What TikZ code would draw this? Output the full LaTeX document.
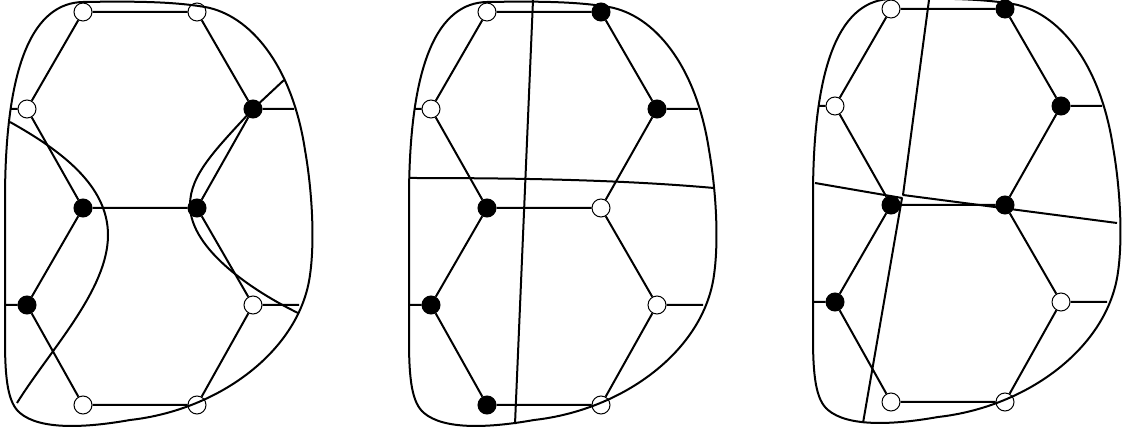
\documentclass[tikz,border=0pt]{standalone}
\tikzset{
 wn/.style={circle,draw=black,fill=white,line width=0.5pt,inner sep=0pt,minimum size=9pt},
 bn/.style={circle,draw=black,fill=black,line width=0.5pt,inner sep=0pt,minimum size=9pt},
 ln/.style={line width=1pt,line join=round},
}
\newcommand\hexgraph[4]{%
 \node[wn] (#1tl) at (83,12) {};
 \node[#2] (#1tr) at (197,12) {};
 \node[wn] (#1ul) at (27,109) {};
 \node[bn] (#1ur) at (253,109) {};
 \node[bn] (#1ml) at (83,208) {};
 \node[#3] (#1mr) at (197,208) {};
 \node[bn] (#1ll) at (27,305) {};
 \node[wn] (#1lr) at (253,305) {};
 \node[#4] (#1bl) at (83,405) {};
 \node[wn] (#1br) at (197,405) {};
 \coordinate (#1sul) at (10,109);
 \coordinate (#1sll) at (5,305);
 \coordinate (#1sur) at (294,109);
 \coordinate (#1slr) at (299,305);
 \draw[ln] (#1tl)--(#1tr) (#1tl)--(#1ul) (#1tr)--(#1ur) (#1ul)--(#1ml)
   (#1ur)--(#1mr) (#1ml)--(#1mr) (#1ml)--(#1ll) (#1mr)--(#1lr)
   (#1ll)--(#1bl) (#1lr)--(#1br) (#1bl)--(#1br)
   (#1ul)--(#1sul) (#1ll)--(#1sll) (#1ur)--(#1sur) (#1lr)--(#1slr);
 \draw[ln] (83,2) .. controls (140,1) and (175,2) .. (205,7)
   .. controls (250,15) and (292,65) .. (305,150)
   .. controls (312,190) and (315,240) .. (310,275)
   .. controls (300,350) and (220,410) .. (130,420)
   .. controls (85,428) and (40,430) .. (20,413)
   .. controls (8,403) and (5,380) .. (5,340)
   -- (5,200)
   .. controls (5,60) and (35,3) .. (83,2) -- cycle;
}
\begin{document}
\begin{tikzpicture}[x=0.5pt,y=-0.5pt]
\useasboundingbox (0,0) rectangle (1124,432);
% panel 1
\begin{scope}
 \hexgraph{a}{wn}{bn}{wn}
 \draw[ln] (10,122) .. controls (60,150) and (108,185) .. (108,235)
   .. controls (108,290) and (50,350) .. (17,403);
 \draw[ln] (284,80) -- (253,109) .. controls (215,150) and (190,175) .. (190,205)
   .. controls (190,250) and (255,292) .. (298,313);
\end{scope}
% panel 2
\begin{scope}[shift={(404,0)}]
 \hexgraph{b}{bn}{wn}{bn}
 \draw[ln] (129,0) -- (111,424);
 \draw[ln] (5,178) .. controls (120,178) and (220,180) .. (310,188);
\end{scope}
% panel 3
\begin{scope}[shift={(808,-3)}]
 \hexgraph{c}{bn}{bn}{wn}
 \draw[ln] (121,3) -- (95,198) -- (309,226);
 \draw[ln] (7,186) -- (94,201) -- (55,426);
\end{scope}
\end{tikzpicture}
\end{document}
